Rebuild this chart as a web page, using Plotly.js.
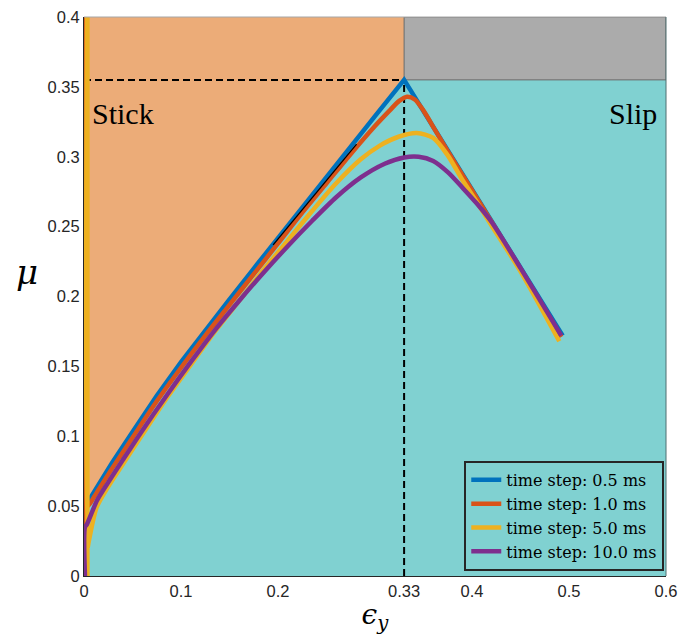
<!DOCTYPE html>
<html>
<head>
<meta charset="utf-8">
<script src="https://cdn.plot.ly/plotly-3.0.1.min.js"></script>
<style>html,body{margin:0;padding:0;background:#fff;}#chart{width:681px;height:635px;}</style>
</head>
<body>
<div id="chart"></div>
<script>
// ---- data ----
const seriesNames = ["time step: 0.5 ms", "time step: 1.0 ms", "time step: 5.0 ms", "time step: 10.0 ms"];

const eps05 = [0, 0, 0.005, 0.0134, 0.029, 0.05, 0.075, 0.10, 0.125, 0.15, 0.175, 0.20, 0.225, 0.25, 0.275, 0.30, 0.33, 0.36, 0.40, 0.44, 0.4935];
const mu05  = [0, 0.054, 0.054, 0.0637, 0.081, 0.103, 0.129, 0.153, 0.176, 0.198, 0.220, 0.242, 0.264, 0.285, 0.307, 0.329, 0.355, 0.3213, 0.2764, 0.2315, 0.172];

const eps10 = [0, 0, 0.003, 0.0134, 0.029, 0.05, 0.075, 0.10, 0.125, 0.15, 0.175, 0.20, 0.225, 0.25, 0.275, 0.30, 0.315, 0.325, 0.333, 0.341, 0.35, 0.362, 0.375, 0.40, 0.44, 0.492];
const mu10  = [0, 0.45, 0.05, 0.060, 0.077, 0.099, 0.125, 0.149, 0.172, 0.194, 0.216, 0.238, 0.260, 0.281, 0.302, 0.322, 0.333, 0.340, 0.343, 0.341, 0.333, 0.319, 0.304, 0.276, 0.231, 0.171];

const eps50 = [0.0035, 0.0035, 0.0035, 0.005, 0.013, 0.025, 0.04, 0.06, 0.085, 0.11, 0.135, 0.16, 0.185, 0.21, 0.235, 0.26, 0.285, 0.305, 0.325, 0.343, 0.36, 0.375, 0.39, 0.406, 0.42, 0.45, 0.490];
const mu50  = [0, 0.45, 0.02, 0.025, 0.049, 0.064, 0.080, 0.101, 0.127, 0.151, 0.175, 0.197, 0.219, 0.240, 0.261, 0.281, 0.298, 0.308, 0.3145, 0.317, 0.3135, 0.301, 0.2835, 0.2665, 0.251, 0.218, 0.168];

const eps100 = [0.001, 0.001, 0.003, 0.0134, 0.025, 0.04, 0.06, 0.085, 0.11, 0.135, 0.16, 0.185, 0.21, 0.235, 0.26, 0.285, 0.31, 0.33, 0.345, 0.36, 0.375, 0.39, 0.405, 0.42, 0.45, 0.492];
const mu100  = [0, 0.035, 0.037, 0.054, 0.067, 0.083, 0.104, 0.129, 0.153, 0.176, 0.197, 0.217, 0.236, 0.254, 0.271, 0.285, 0.295, 0.2995, 0.300, 0.297, 0.289, 0.278, 0.2665, 0.2535, 0.2203, 0.172];

const fitEps = [0.195, 0.281];
const fitMu  = [0.237, 0.309];

const peakEps = 0.33;     // critical strain
const peakMu  = 0.355;    // static friction coefficient
const muMax   = 0.4;
const epsMax  = 0.6;

const xTickVals = [0, 0.1, 0.2, 0.33, 0.4, 0.5, 0.6];
const xTickText = ["0", "0.1", "0.2", "0.33", "0.4", "0.5", "0.6"];
const yTickVals = [0, 0.05, 0.1, 0.15, 0.2, 0.25, 0.3, 0.35, 0.4];
const yTickText = ["0", "0.05", "0.1", "0.15", "0.2", "0.25", "0.3", "0.35", "0.4"];

const colors = ["#0072BD", "#D95319", "#EDB120", "#7E2F8E"];

// ---- build traces ----
const riseX = [], riseY = [];
for (let i = 2; i < eps05.length; i++) { if (eps05[i] <= peakEps) { riseX.push(eps05[i]); riseY.push(mu05[i]); } }
const stickX = [0, 0].concat(riseX).concat([peakEps, peakEps]);
const stickY = [muMax, 0.02].concat(riseY).concat([peakMu, muMax]);

const traces = [];
traces.push({x: stickX, y: stickY, type: 'scatter', mode: 'lines', fill: 'toself',
  fillcolor: '#ECAC78', line: {width: 0}, showlegend: false, hoverinfo: 'skip'});
traces.push({x: [peakEps, epsMax, epsMax, peakEps, peakEps], y: [peakMu, peakMu, muMax, muMax, peakMu],
  type: 'scatter', mode: 'lines', fill: 'toself', fillcolor: '#ABABAB',
  line: {width: 1, color: '#6b6b6b'}, showlegend: false, hoverinfo: 'skip'});
traces.push({x: [0, peakEps], y: [peakMu, peakMu], type: 'scatter', mode: 'lines',
  line: {color: '#000', width: 2, dash: '7px,4px'}, showlegend: false, hoverinfo: 'skip'});
traces.push({x: [peakEps, peakEps], y: [0, peakMu], type: 'scatter', mode: 'lines',
  line: {color: '#000', width: 2, dash: '7px,4px'}, showlegend: false, hoverinfo: 'skip'});

const xs = [eps05, eps10, eps50, eps100];
const ys = [mu05, mu10, mu50, mu100];
for (let k = 0; k < 4; k++) {
  traces.push({x: xs[k], y: ys[k], type: 'scatter', mode: 'lines', name: seriesNames[k],
    line: k === 0 ? {color: colors[k], width: 4.5} : {color: colors[k], width: 4.5, shape: 'spline', smoothing: 0.8}});
}
traces.push({x: fitEps, y: fitMu, type: 'scatter', mode: 'lines',
  line: {color: '#000', width: 1.3}, showlegend: false, hoverinfo: 'skip'});

const layout = {
  width: 681, height: 635,
  margin: {l: 84, r: 15, t: 17, b: 59},
  paper_bgcolor: '#ffffff',
  plot_bgcolor: '#80D1D1',
  showlegend: true,
  xaxis: {
    range: [0, epsMax], tickvals: xTickVals, ticktext: xTickText,
    showgrid: false, zeroline: false, ticks: '',
    showline: true, linecolor: '#262626', linewidth: 1,
    tickfont: {family: 'Liberation Sans, Arial, sans-serif', size: 16.5, color: '#262626'},
    title: {text: '<i>ϵ</i><sub><i>y</i></sub>', standoff: 4,
      font: {family: 'DejaVu Serif, Liberation Serif, serif', size: 28, color: '#000'}}
  },
  yaxis: {
    range: [0, muMax], tickvals: yTickVals, ticktext: yTickText,
    showgrid: false, zeroline: false, ticks: '',
    showline: true, linecolor: '#262626', linewidth: 1,
    tickfont: {family: 'Liberation Sans, Arial, sans-serif', size: 16.5, color: '#262626'}
  },
  legend: {
    x: 0.997, xanchor: 'right', y: 0.009, yanchor: 'bottom',
    bgcolor: 'rgba(0,0,0,0)', bordercolor: '#262626', borderwidth: 2,
    font: {family: 'DejaVu Serif, Liberation Serif, serif', size: 16, color: '#000'},
    itemwidth: 30, tracegroupgap: 0
  },
  shapes: [
    {type: 'line', xref: 'paper', yref: 'paper', x0: 0, x1: 1, y0: 1, y1: 1, line: {color: '#a6a6a6', width: 1}},
    {type: 'line', xref: 'paper', yref: 'paper', x0: 1, x1: 1, y0: 0, y1: 1, line: {color: '#4f6f70', width: 1}}
  ],
  annotations: [
    {text: 'Stick', x: 0.04, y: 0.331, xref: 'x', yref: 'y', showarrow: false,
      font: {family: 'Liberation Serif, Times New Roman, serif', size: 30, color: '#000'}},
    {text: 'Slip', x: 0.566, y: 0.331, xref: 'x', yref: 'y', showarrow: false,
      font: {family: 'Liberation Serif, Times New Roman, serif', size: 30, color: '#000'}},
    {text: '<i>μ</i>', x: -0.098, y: 0.544, xref: 'paper', yref: 'paper', xanchor: 'center', yanchor: 'middle', showarrow: false,
      font: {family: 'DejaVu Serif, Liberation Serif, serif', size: 34, color: '#000'}}
  ]
};

Plotly.newPlot('chart', traces, layout, {displayModeBar: false, staticPlot: true});
</script>
</body>
</html>
